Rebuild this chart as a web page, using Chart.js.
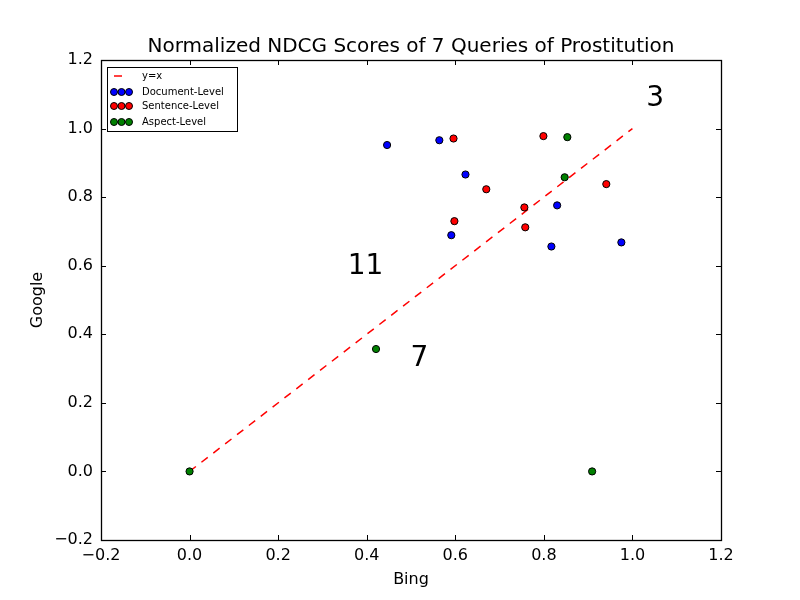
<!DOCTYPE html>
<html>
<head>
<meta charset="utf-8">
<script src="https://cdn.jsdelivr.net/npm/chart.js@4.4.1/dist/chart.umd.min.js"></script>
<style>
html,body{margin:0;padding:0;background:#fff;}
#wrap{width:800px;height:600px;}
</style>
</head>
<body>
<div id="wrap"><canvas id="c" width="800" height="600"></canvas></div>
<script>
const titleText = "Normalized NDCG Scores of 7 Queries of Prostitution";
const xLabel = "Bing";
const yLabel = "Google";
const xTicks = [-0.2, 0.0, 0.2, 0.4, 0.6, 0.8, 1.0, 1.2];
const yTicks = [-0.2, 0.0, 0.2, 0.4, 0.6, 0.8, 1.0, 1.2];

const docX = [0.446, 0.564, 0.623, 0.591, 0.830, 0.817, 0.975];
const docY = [0.952, 0.966, 0.866, 0.689, 0.776, 0.656, 0.668];
const sentX = [0.596, 0.799, 0.670, 0.756, 0.598, 0.758, 0.941];
const sentY = [0.971, 0.978, 0.823, 0.770, 0.730, 0.712, 0.838];
const aspX = [0.853, 0.847, 0.421, 0.909, 0.0];
const aspY = [0.975, 0.858, 0.357, 0.0, 0.0];
const refX = [0, 1];
const refY = [0, 1];

const annoText = ["3", "11", "7"];
const annoX = [1.031, 0.357, 0.499];
const annoY = [1.066, 0.576, 0.307];

const legendLabels = ["y=x", "Document-Level", "Sentence-Level", "Aspect-Level"];

const FONT = "'DejaVu Sans', sans-serif";
const toPts = (xs, ys) => xs.map((x, i) => ({x: x, y: ys[i]}));
const fmt = v => { const s = Number(v).toFixed(1); return s.startsWith('-') ? '\u2212' + s.slice(1) : s; };

const frame = {
  id: 'frame',
  afterDatasetsDraw(chart) {
    const {ctx, chartArea: a, scales} = chart;
    ctx.save();
    ctx.strokeStyle = '#000';
    ctx.lineWidth = 1;
    const L = 5;
    ctx.beginPath();
    xTicks.forEach(v => {
      const px = Math.round(scales.x.getPixelForValue(v)) + 0.5;
      ctx.moveTo(px, a.bottom); ctx.lineTo(px, a.bottom - L);
      ctx.moveTo(px, a.top); ctx.lineTo(px, a.top + L);
    });
    yTicks.forEach(v => {
      const py = Math.round(scales.y.getPixelForValue(v)) + 0.5;
      ctx.moveTo(a.left, py); ctx.lineTo(a.left + L, py);
      ctx.moveTo(a.right, py); ctx.lineTo(a.right - L, py);
    });
    ctx.stroke();
    ctx.lineWidth = 1.3;
    ctx.strokeRect(Math.round(a.left) + 0.5, Math.round(a.top) + 0.5, Math.round(a.right - a.left), Math.round(a.bottom - a.top));
    ctx.lineWidth = 1;

    // title
    ctx.fillStyle = '#000';
    ctx.font = "20px " + FONT;
    ctx.textAlign = 'center';
    ctx.textBaseline = 'middle';
    ctx.fillText(titleText, (a.left + a.right) / 2, 47);

    // annotations
    ctx.font = "28px " + FONT;
    ctx.textAlign = 'left';
    ctx.textBaseline = 'alphabetic';
    annoText.forEach((t, i) => {
      ctx.fillText(t, scales.x.getPixelForValue(annoX[i]), scales.y.getPixelForValue(annoY[i]));
    });

    // legend
    const bx = a.left + 6, by = a.top + 7, bw = 130, bh = 64;
    ctx.fillStyle = '#fff';
    ctx.fillRect(bx, by, bw, bh);
    ctx.strokeRect(Math.round(bx) + 0.5, Math.round(by) + 0.5, bw, bh);
    const colors = ['#0000ff', '#ff0000', '#008000'];
    const rowY = [by + 9, by + 25, by + 39, by + 55];
    ctx.strokeStyle = '#ff0000';
    ctx.lineWidth = 1.5;
    ctx.beginPath();
    ctx.moveTo(bx + 7, rowY[0]); ctx.lineTo(bx + 15, rowY[0]);
    ctx.stroke();
    ctx.lineWidth = 1;
    for (let r = 0; r < 3; r++) {
      [bx + 7, bx + 14.5, bx + 22].forEach(cx => {
        ctx.beginPath();
        ctx.arc(cx, rowY[r + 1], 3.5, 0, Math.PI * 2);
        ctx.fillStyle = colors[r];
        ctx.fill();
        ctx.strokeStyle = '#000';
        ctx.stroke();
      });
    }
    ctx.fillStyle = '#000';
    ctx.font = "10px " + FONT;
    ctx.textBaseline = 'middle';
    legendLabels.forEach((t, i) => ctx.fillText(t, bx + 35, rowY[i]));
    ctx.restore();
  }
};

const ptStyle = c => ({
  backgroundColor: c, borderColor: '#000', borderWidth: 1,
  pointRadius: 3.6, pointHoverRadius: 3.6, showLine: false
});

new Chart(document.getElementById('c'), {
  type: 'scatter',
  data: {
    datasets: [
      Object.assign({label: legendLabels[3], data: toPts(aspX, aspY), order: 0}, ptStyle('#008000')),
      Object.assign({label: legendLabels[2], data: toPts(sentX, sentY), order: 1}, ptStyle('#ff0000')),
      Object.assign({label: legendLabels[1], data: toPts(docX, docY), order: 2}, ptStyle('#0000ff')),
      {label: legendLabels[0], data: toPts(refX, refY), showLine: true, borderColor: '#ff0000',
       borderWidth: 1.5, borderDash: [8, 7], pointRadius: 0, fill: false, order: 3}
    ]
  },
  options: {
    responsive: false,
    animation: false,
    devicePixelRatio: 1,
    layout: {padding: {right: 79, left: 0, top: 60, bottom: 0}},
    plugins: {
      legend: {display: false},
      tooltip: {enabled: false},
      title: {display: false}
    },
    scales: {
      x: {
        type: 'linear', min: -0.2, max: 1.2,
        afterBuildTicks: s => { s.ticks = xTicks.map(v => ({value: v})); },
        afterFit: s => { s.height = 60; },
        grid: {display: false, drawTicks: false},
        border: {display: false},
        ticks: {color: '#000', padding: 6, font: {family: FONT, size: 16}, callback: v => fmt(v), maxRotation: 0},
        title: {display: true, text: xLabel, color: '#000', font: {family: FONT, size: 16}, padding: {top: 0, bottom: 11}}
      },
      y: {
        type: 'linear', min: -0.2, max: 1.2,
        afterBuildTicks: s => { s.ticks = yTicks.map(v => ({value: v})); },
        afterFit: s => { s.width = 101; },
        grid: {display: false, drawTicks: false},
        border: {display: false},
        ticks: {color: '#000', padding: 8, font: {family: FONT, size: 16}, callback: v => fmt(v)},
        title: {display: true, text: yLabel, color: '#000', font: {family: FONT, size: 16}, padding: {top: 28, bottom: 0}}
      }
    }
  },
  plugins: [frame]
});
</script>
</body>
</html>
